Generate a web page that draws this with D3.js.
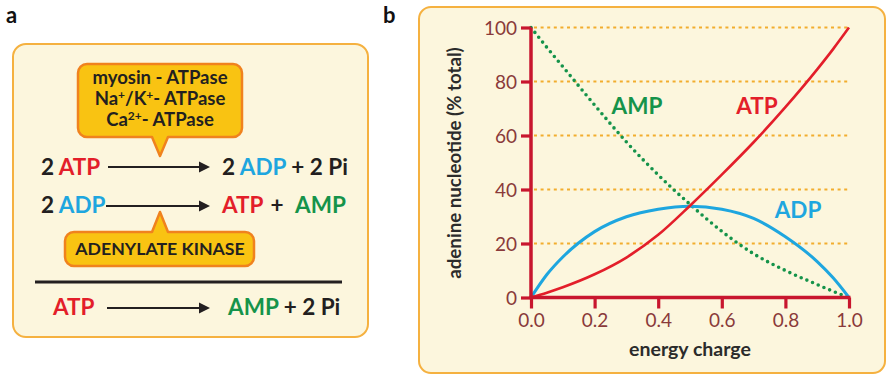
<!DOCTYPE html>
<html><head><meta charset="utf-8">
<script src="https://cdn.jsdelivr.net/npm/d3@7/dist/d3.min.js"></script>
<style>
html,body{margin:0;padding:0;background:#fff;}
svg{display:block;font-family:Lato,"Open Sans",sans-serif;}
</style></head>
<body>
<svg id="c" width="887" height="375"></svg>
<script>
// ---- data (panel b) ----
const energyCharge = [0, 0.05, 0.1, 0.2, 0.3, 0.4, 0.5, 0.6, 0.7, 0.8, 0.9, 0.95, 1.0];
const atpValues    = [0, 1.8, 3.8, 8.6, 14.8, 23.2, 34, 45.5, 57.5, 70.5, 84.5, 92, 100];
const adpValues    = [0, 8.5, 15, 24.4, 29.9, 32.7, 33.8, 32.7, 29.3, 22.5, 13.3, 7.3, 0];
const ampValues    = [100, 92.6, 85.5, 71.3, 57.6, 45.4, 34.5, 24.5, 16.2, 10, 4.8, 2.3, 0];
const xTicks = [0, 0.2, 0.4, 0.6, 0.8, 1.0];
const yTicks = [0, 20, 40, 60, 80, 100];
const gridValues = [20, 40, 60, 80, 100];
const seriesNames = ["ATP", "ADP", "AMP"];

// ---- text (panel a) ----
const enzymeLines = ["myosin - ATPase", "Na+/K+- ATPase", "Ca2+- ATPase"];
const kinaseLabel = "ADENYLATE KINASE";

const C = {atp:"#e31e2a", adp:"#1ea6df", amp:"#15934a", ink:"#231f20",
           axis:"#c8162e", tick:"#8a3a3a", grid:"#f2ad2e", cream:"#fcf6dd",
           frame:"#f5b140", gold:"#f9c312", goldStroke:"#f0821e"};

const svg = d3.select("#c");

// ================= PANEL A =================
svg.append("text").attr("x",6).attr("y",23).attr("font-size",22).attr("font-weight",700)
  .attr("fill","#111").text("a");
svg.append("rect").attr("x",13).attr("y",44).attr("width",355).attr("height",293)
  .attr("rx",13).attr("fill",C.cream).attr("stroke",C.frame).attr("stroke-width",2);

function callout(x0,y0,x1,y1,r,cx,hw,tipY){
  const p = d3.path();
  p.moveTo(x0+r,y0);
  if (tipY<y0){ p.lineTo(cx-hw,y0); p.lineTo(cx,tipY); p.lineTo(cx+hw,y0); }
  p.lineTo(x1-r,y0); p.arcTo(x1,y0,x1,y0+r,r);
  p.lineTo(x1,y1-r); p.arcTo(x1,y1,x1-r,y1,r);
  if (tipY>y1){ p.lineTo(cx+hw,y1); p.lineTo(cx,tipY); p.lineTo(cx-hw,y1); }
  p.lineTo(x0+r,y1); p.arcTo(x0,y1,x0,y1-r,r);
  p.lineTo(x0,y0+r); p.arcTo(x0,y0,x0+r,y0,r);
  p.closePath();
  return p.toString();
}
svg.append("path").attr("d",callout(78,64,242,137,9,160,8,156))
  .attr("fill",C.gold).attr("stroke",C.goldStroke).attr("stroke-width",2.5).attr("stroke-linejoin","round");
svg.append("path").attr("d",callout(65,232,254,266,9,160,8,212))
  .attr("fill",C.gold).attr("stroke",C.goldStroke).attr("stroke-width",2.5).attr("stroke-linejoin","round");

const enzY = [84,105,126];
const enzFs = 18.5;
enzymeLines.forEach((ln,i)=>{
  const t = svg.append("text").attr("x",160).attr("y",enzY[i]).attr("text-anchor","middle")
    .attr("font-size",enzFs).attr("font-weight",700).attr("fill",C.ink);
  if (i===0){ t.text(ln); }
  else if (i===1){
    t.append("tspan").text("Na");
    t.append("tspan").attr("font-size",12).attr("dy",-6).text("+");
    t.append("tspan").attr("dy",6).text("/K");
    t.append("tspan").attr("font-size",12).attr("dy",-6).text("+");
    t.append("tspan").attr("dy",6).text("- ATPase");
  } else {
    t.append("tspan").text("Ca");
    t.append("tspan").attr("font-size",12).attr("dy",-6).text("2+");
    t.append("tspan").attr("dy",6).text("- ATPase");
  }
});
svg.append("text").attr("x",160).attr("y",255).attr("text-anchor","middle")
  .attr("font-size",17.7).attr("font-weight",700).attr("fill",C.ink).text(kinaseLabel);

function arrow(x1,x2,y){
  svg.append("line").attr("x1",x1).attr("x2",x2-9).attr("y1",y).attr("y2",y)
    .attr("stroke",C.ink).attr("stroke-width",2);
  svg.append("path").attr("d",`M${x2},${y}L${x2-11},${y-5.5}L${x2-11},${y+5.5}Z`).attr("fill",C.ink);
}
function rich(x,y,parts,anchor){
  const t = svg.append("text").attr("x",x).attr("y",y).attr("font-size",22.5)
    .attr("font-weight",700).attr("text-anchor",anchor||"start").attr("xml:space","preserve");
  parts.forEach(([s,c])=>t.append("tspan").attr("fill",c).text(s));
}
const colorOf = {ATP:C.atp, ADP:C.adp, AMP:C.amp};
rich(41,175,[["2 ",C.ink],["ATP",colorOf.ATP]]);
arrow(108,210,167);
rich(222,175,[["2 ",C.ink],["ADP",colorOf.ADP],[" + 2 Pi",C.ink]]);
rich(41,213,[["2 ",C.ink],["ADP",colorOf.ADP]]);
arrow(106,210,206);
rich(222,213,[["ATP",colorOf.ATP]]);
rich(277,213,[["+",C.ink]],"middle");
rich(295,213,[["AMP",colorOf.AMP]]);
svg.append("line").attr("x1",35).attr("x2",342).attr("y1",282).attr("y2",282)
  .attr("stroke",C.ink).attr("stroke-width",3);
rich(53,315,[["ATP",colorOf.ATP]]);
arrow(107,210,308);
rich(228,315,[["AMP",colorOf.AMP],[" + 2 Pi",C.ink]]);

// ================= PANEL B =================
svg.append("text").attr("x",383).attr("y",23).attr("font-size",22).attr("font-weight",700)
  .attr("fill","#111").text("b");
svg.append("rect").attr("x",419).attr("y",7).attr("width",466).attr("height",366)
  .attr("rx",12).attr("fill",C.cream).attr("stroke",C.frame).attr("stroke-width",2);

const x = d3.scaleLinear().domain([0,1]).range([531,849]);
const y = d3.scaleLinear().domain([0,100]).range([297.5,27.5]);

svg.append("g").selectAll("line").data(gridValues).join("line")
  .attr("x1",x(0)+3).attr("x2",x(1)+1).attr("y1",d=>y(d)).attr("y2",d=>y(d))
  .attr("stroke",C.grid).attr("stroke-width",2).attr("stroke-dasharray","3,3.6");

const rows = energyCharge.map((e,i)=>({e, ATP:atpValues[i], ADP:adpValues[i], AMP:ampValues[i]}));
const lineGen = k => d3.line().x(d=>x(d.e)).y(d=>y(d[k])).curve(d3.curveMonotoneX)(rows);

svg.append("path").attr("d",lineGen("AMP")).attr("fill","none").attr("stroke",C.amp)
  .attr("stroke-width",3.6).attr("stroke-linecap","round").attr("stroke-dasharray","0,6.2");
svg.append("path").attr("d",lineGen("ADP")).attr("fill","none").attr("stroke",C.adp)
  .attr("stroke-width",3);
svg.append("path").attr("d",lineGen("ATP")).attr("fill","none").attr("stroke",C.atp)
  .attr("stroke-width",2.6);

const gy = svg.append("g").attr("transform",`translate(${x(0)},0)`)
  .call(d3.axisLeft(y).tickValues(yTicks).tickSize(10).tickSizeOuter(0).tickPadding(4));
const gx = svg.append("g").attr("transform",`translate(0,${y(0)})`)
  .call(d3.axisBottom(x).tickValues(xTicks).tickSize(11).tickSizeOuter(0).tickPadding(5)
    .tickFormat(d3.format(".1f")));
[gy,gx].forEach(g=>{
  g.select(".domain").attr("stroke",C.axis).attr("stroke-width",3.5);
  g.selectAll(".tick line").attr("stroke",C.axis).attr("stroke-width",3.2);
  g.selectAll(".tick text").attr("fill",C.tick).attr("font-size",19)
    .attr("font-family","Lato, 'Open Sans', sans-serif");
});
gx.select(".domain").attr("d",`M${x(0)-1.5},0H${x(1)+1.5}`);
gy.select(".domain").attr("d",`M0,${y(100)}V${y(0)+1.5}`);
gy.selectAll(".tick text").attr("dy","0.36em");

svg.append("text").attr("x",690).attr("y",356).attr("text-anchor","middle")
  .attr("font-size",19.5).attr("font-weight",700).attr("fill","#2b2b2b").text("energy charge");
svg.append("text").attr("transform","translate(461,163) rotate(-90)").attr("text-anchor","middle")
  .attr("font-size",18.7).attr("font-weight",700).attr("fill","#2b2b2b").text("adenine nucleotide (% total)");

const labelPos = {AMP:[637,114], ATP:[757,114], ADP:[798,218]};
seriesNames.forEach(n=>{
  svg.append("text").attr("x",labelPos[n][0]).attr("y",labelPos[n][1]).attr("text-anchor","middle")
    .attr("font-size",22.5).attr("font-weight",700).attr("fill",colorOf[n]).text(n);
});
</script>
</body></html>
